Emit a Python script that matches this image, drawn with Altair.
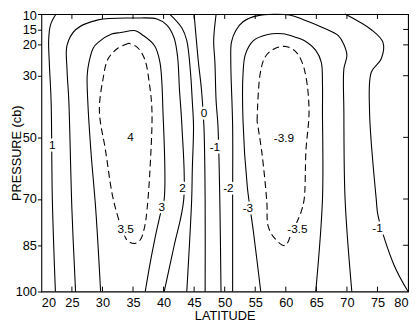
import altair as alt
import pandas as pd

# ---- contour polylines: latitude (deg) and pressure (cb) ----
c1_left_lat = [22.4, 21.5, 21.2, 21.3, 21.6, 21.8, 22.3]
c1_left_p = [10, 13.5, 18.3, 25.6, 38.3, 70.1, 100]

c1_right_lat = [41.0, 43.0, 43.8, 44.4, 44.7, 44.9, 44.7, 44.6, 43.8]
c1_right_p = [10, 14.5, 18.6, 28.8, 38.3, 46.3, 60.6, 70.1, 100]

c2_lat = [25.6, 25.0, 24.5, 24.2, 24.2, 25.6, 29.3, 35.4, 38.9, 40.5, 41.7, 42.3, 42.6, 43.0, 43.3, 41.7, 40.1]
c2_p = [100, 73.3, 38.3, 27.8, 20.2, 15.1, 11.9, 11.3, 11.6, 13.5, 17.6, 24.0, 34.5, 46.3, 70.1, 85.4, 100]

c3_lat = [29.7, 28.9, 28.1, 27.6, 27.5, 27.8, 28.5, 29.3, 31.5, 33.0, 35.4, 36.5, 38.5, 39.4, 39.9, 40.1, 39.4, 38.1, 37.0]
c3_p = [100, 73.3, 54.2, 38.3, 30.0, 25.6, 21.0, 19.2, 16.5, 16.0, 15.4, 16.7, 20.2, 25.6, 41.5, 70.1, 75.5, 87.6, 100]

c35_lat = [34.3, 32.5, 30.9, 30.1, 29.5, 30.5, 31.6, 32.4, 33.2, 34.1, 35.3, 36.2, 36.9, 37.3, 37.8, 38.1, 37.7, 36.9, 35.7, 34.3]
c35_p = [19.5, 21.1, 24.6, 31.0, 41.5, 54.2, 68.5, 74.9, 79.7, 83.5, 84.4, 83.2, 79.0, 73.3, 59.6, 41.5, 32.9, 24.6, 20.8, 19.5]

c0_lat = [45.0, 45.3, 45.7, 46.2, 46.6, 46.8, 46.8]
c0_p = [10, 17.0, 25.6, 34.5, 46.3, 70.1, 100]

cm1_left_lat = [48.6, 48.2, 48.4, 48.6, 48.9, 49.2, 49.4]
cm1_left_p = [10, 18.6, 25.6, 38.3, 46.3, 70.1, 100]

cm1_right_lat = [69.7, 74.0, 75.9, 75.6, 74.0, 73.7, 74.8, 75.1, 77.7, 80.0]
cm1_right_p = [10, 15.1, 19.2, 24.6, 28.8, 41.5, 70.1, 75.5, 91.4, 100]

cm2_lat = [51.3, 51.3, 51.3, 51.0, 51.1, 51.8, 53.0, 55.3, 60.6, 63.0, 66.2, 68.6, 69.5, 70.0, 69.5, 69.5, 69.7, 70.8]
cm2_p = [100, 70.1, 46.3, 25.6, 19.2, 15.4, 12.5, 10.6, 10.3, 11.9, 14.5, 17.0, 19.9, 23.4, 27.8, 41.5, 70.1, 100]

cm3_lat = [55.9, 54.7, 53.7, 53.0, 53.0, 53.4, 54.7, 56.9, 59.5, 61.7, 63.0, 64.9, 65.8, 66.0, 66.0, 66.0, 64.9]
cm3_p = [100, 80.6, 66.0, 44.7, 29.4, 23.0, 18.6, 16.7, 16.4, 17.6, 18.6, 21.8, 25.6, 32.9, 41.5, 70.1, 100]

cm35_lat = [55.3, 55.8, 56.6, 57.9, 59.8, 61.4, 62.5, 63.3, 63.8, 63.3, 63.0, 62.5, 61.9, 61.0, 59.9, 58.2, 57.1, 56.9, 56.1, 55.3]
cm35_p = [44.7, 29.4, 24.0, 21.5, 20.5, 21.8, 24.9, 30.4, 41.5, 54.2, 70.1, 74.2, 77.1, 80.6, 85.1, 82.8, 78.7, 71.1, 55.2, 44.7]

# ---- contour value labels ----
label_text = ["1", "2", "3", "3.5", "4", "0", "-1", "-2", "-3", "-3.5", "-3.9", "-1"]
label_lat = [21.8, 43.1, 39.7, 33.8, 34.6, 46.6, 48.4, 50.6, 53.8, 61.9, 59.7, 75.0]
label_p = [52.6, 66.3, 72.7, 79.7, 49.8, 42.1, 53.3, 66.3, 73.0, 79.7, 50.1, 79.3]

# ---- axis ticks ----
lat_ticks = [20, 25, 30, 35, 40, 45, 50, 55, 60, 65, 70, 75, 80]
p_ticks = [10, 15, 20, 30, 50, 70, 85, 100]

solid = {
    "c1_left": (c1_left_lat, c1_left_p),
    "c1_right": (c1_right_lat, c1_right_p),
    "c2": (c2_lat, c2_p),
    "c3": (c3_lat, c3_p),
    "c0": (c0_lat, c0_p),
    "cm1_left": (cm1_left_lat, cm1_left_p),
    "cm1_right": (cm1_right_lat, cm1_right_p),
    "cm2": (cm2_lat, cm2_p),
    "cm3": (cm3_lat, cm3_p),
}
dashed = {
    "c35": (c35_lat, c35_p),
    "cm35": (cm35_lat, cm35_p),
}


def to_frame(d):
    rows = []
    for name, (lats, ps) in d.items():
        for i, (la, pp) in enumerate(zip(lats, ps)):
            rows.append({"id": name, "i": i, "lat": la, "p": pp})
    return pd.DataFrame(rows)


solid_df = to_frame(solid)
dashed_df = to_frame(dashed)
labels_df = pd.DataFrame({"text": label_text, "lat": label_lat, "p": label_p})
xt_df = pd.DataFrame({"lat": lat_ticks[1:-1]})
yt_df = pd.DataFrame({"p": p_ticks[1:-1]})

W, H = 374, 283
FONT = "Liberation Sans"

xs = alt.Scale(domain=[20, 80], nice=False, zero=False)
ys = alt.Scale(domain=[10, 100], reverse=True, nice=False, zero=False)

x_axis = alt.Axis(values=lat_ticks, title="LATITUDE", grid=False, domain=False, ticks=False,
                  labelFontSize=13, labelFont=FONT, labelColor="black", labelPadding=5,
                  titleFontSize=13, titleFont=FONT, titleFontWeight="normal", titleColor="black",
                  titlePadding=1)
y_axis = alt.Axis(values=p_ticks, title="PRESSURE (cb)", grid=False, domain=False, ticks=True,
                  tickSize=4, tickColor="black", tickWidth=1,
                  labelFontSize=13, labelFont=FONT, labelColor="black", labelPadding=1,
                  labelOffset={"condition": {"test": "datum.value == 10", "value": 2}, "value": 0},
                  titleFontSize=13, titleFont=FONT, titleFontWeight="normal", titleColor="black",
                  titleX=-18, titleBaseline="bottom")

X = alt.X("lat:Q", scale=xs, axis=x_axis)
Y = alt.Y("p:Q", scale=ys, axis=y_axis)

lines_solid = alt.Chart(solid_df).mark_line(color="black", strokeWidth=1.1, interpolate="catmull-rom").encode(
    x=X, y=Y, detail="id:N", order="i:Q",
)

lines_dashed = alt.Chart(dashed_df).mark_line(color="black", strokeWidth=1.1, strokeDash=[7, 4],
                                              interpolate="catmull-rom").encode(
    x=X, y=Y, detail="id:N", order="i:Q",
)

halo = alt.Chart(labels_df).mark_text(fontSize=12, font=FONT, stroke="white", strokeWidth=5,
                                      color="white").encode(x=X, y=Y, text="text:N")
texts = alt.Chart(labels_df).mark_text(fontSize=12, font=FONT, color="black").encode(
    x=X, y=Y, text="text:N")

bottom_ticks = alt.Chart(xt_df).mark_rule(color="black", strokeWidth=1).encode(
    x=X, y=alt.value(H), y2=alt.value(H - 5))
top_ticks = alt.Chart(xt_df).mark_rule(color="black", strokeWidth=1).encode(
    x=X, y=alt.value(0), y2=alt.value(5))
right_ticks = alt.Chart(yt_df).mark_rule(color="black", strokeWidth=1).encode(
    y=Y, x=alt.value(W), x2=alt.value(W - 5))

chart = alt.layer(
    lines_solid, lines_dashed, halo, texts, bottom_ticks, top_ticks, right_ticks
).properties(
    width=W, height=H,
    autosize=alt.AutoSizeParams(type="none"),
    padding={"left": 34, "top": 3, "right": 2, "bottom": 31},
    background="white",
).configure_view(
    stroke="black", strokeWidth=1.1
)

chart.save("out.html", embed_options={"renderer": "svg", "actions": False})
